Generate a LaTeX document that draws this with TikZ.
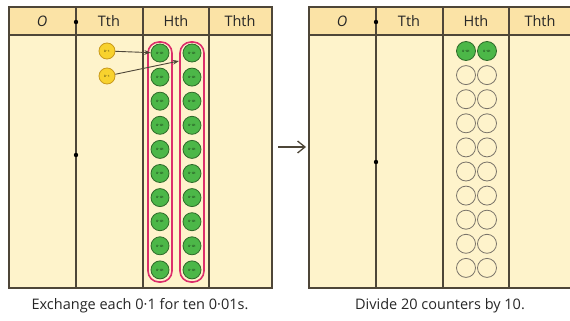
\documentclass[tikz,border=0pt]{standalone}
\usepackage{fontspec}
\setmainfont{Open Sans}
\usepackage{xcolor}
\usetikzlibrary{arrows.meta,calc}
\definecolor{chartbody}{HTML}{FEF3CB}
\definecolor{charthead}{HTML}{FBE3A6}
\definecolor{chartline}{HTML}{4E4638}
\definecolor{cntgreen}{HTML}{4CB748}
\definecolor{cntedge}{HTML}{2F6B2A}
\definecolor{cntyellow}{HTML}{F8D22E}
\definecolor{cntyedge}{HTML}{C99A1C}
\definecolor{ringpink}{HTML}{DC2E6B}

\tikzset{
	hundredth/.style={circle, fill=cntgreen, draw=cntedge, line width=0.8pt,
		minimum size=18pt, inner sep=0pt, font=\fontsize{3}{3}\selectfont},
	tenth/.style={circle, fill=cntyellow, draw=cntyedge, line width=0.8pt,
		minimum size=16pt, inner sep=0pt, font=\fontsize{3}{3}\selectfont},
	emptycnt/.style={circle, draw=chartline!75, line width=0.8pt,
		minimum size=19pt, inner sep=0pt},
	colhead/.style={font=\fontsize{14.5}{16}\selectfont, text=black!85},
	caption/.style={font=\fontsize{14.5}{16}\selectfont, text=black!85}
}

\begin{document}
\begin{tikzpicture}[x=1pt, y=-1pt]
		\useasboundingbox (0,0) rectangle (570,321);
		\clip (0,0) rectangle (570,321);
		% the two place value charts
		\foreach \ox/\dy in {0/155, 300/162}
			{\fill[chartbody] (\ox+9,35) rectangle (\ox+272,288);
				\fill[charthead] (\ox+9,7) rectangle (\ox+272,35);
				\draw[chartline, line width=1.1pt] (\ox+9,7) rectangle (\ox+272,288);
				\draw[chartline, line width=1.1pt] (\ox+9,35) -- (\ox+272,35);
				\foreach \cx in {76,143,209}
					\draw[chartline, line width=1.1pt] (\ox+\cx,7) -- (\ox+\cx,288);
				\node[colhead] at (\ox+42,21) {\textit{O}};
				\node[colhead] at (\ox+109,21) {Tth};
				\node[colhead] at (\ox+176,21) {Hth};
				\node[colhead] at (\ox+240,21) {Thth};
				% decimal point
				\fill[black] (\ox+76,22) circle (2.2pt);
				\fill[black] (\ox+76,\dy) circle (2.2pt);}
		% left chart: rings round each ten
		\draw[ringpink, line width=1.6pt, rounded corners=11pt] (148,42) rectangle (172,282);
		\draw[ringpink, line width=1.6pt, rounded corners=11pt] (180,42) rectangle (204,282);
		\foreach \i in {1,...,10}
			{\node[hundredth] (ga\i) at (160,{53+24.1*(\i-1)}) {0$\cdot$01};
				\node[hundredth] (gb\i) at (192,{53+24.1*(\i-1)}) {0$\cdot$01};}
		\node[tenth] (ya) at (107,51) {0$\cdot$1};
		\node[tenth] (yb) at (107,76) {0$\cdot$1};
		\coordinate (aim) at (179,61);
		\draw[chartline, line width=0.9pt, -{Stealth[length=2.2mm]}] (ya) -- (ga1);
		\draw[chartline, line width=0.9pt, -{Stealth[length=2.2mm]}] (yb) -- (aim);
		% exchange arrow
		\coordinate (fromchart) at (278,147);
		\coordinate (tochart) at (306,147);
		\draw[chartline, line width=1.3pt, -{Straight Barb[length=2.6mm, width=4.2mm]}] (fromchart) -- (tochart);
		% right chart: 20 counters shared by 10
		\node[hundredth, minimum size=19pt] (ra) at (466,51) {0$\cdot$01};
		\node[hundredth, minimum size=19pt] (rb) at (487,51) {0$\cdot$01};
		\foreach \i in {2,...,10}
			{\node[emptycnt] (ea\i) at (466,{51+24.1*(\i-1)}) {};
				\node[emptycnt] (eb\i) at (487,{51+24.1*(\i-1)}) {};}
		% captions
		\node[caption] (capl) at (140,306) {Exchange each 0·1 for ten 0·01s.};
		\node[caption] (capr) at (440,306) {Divide 20 counters by 10.};
	\end{tikzpicture}
\end{document}
